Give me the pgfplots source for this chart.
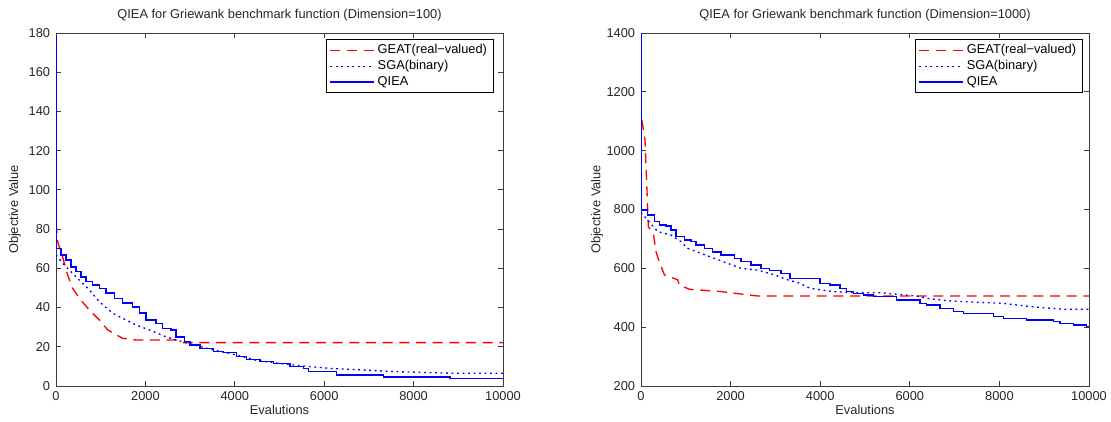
\documentclass[border=0pt]{standalone}
\usepackage{fontspec}
\setmainfont{Liberation Sans}
\usepackage{pgfplots}
\pgfplotsset{compat=1.18}
\definecolor{axgray}{RGB}{60,60,60}
\begin{document}
\begin{tikzpicture}
\useasboundingbox (0,0) rectangle (666.6pt,252.6pt);
\pgfplotsset{
  myaxis/.style={
    scale only axis, height=211.8pt, anchor=south west,
    xmin=0, xmax=10000, xtick={0,2000,...,10000},
    scaled x ticks=false, scaled y ticks=false,
    /pgf/number format/1000 sep={},
    /pgf/number format/assume math mode=true,
    tick align=inside, major tick length=3pt,
    axis line style={axgray, line width=0.6pt},
    every tick/.style={axgray, line width=0.6pt},
    font=\fontsize{7.7}{9}\selectfont,
    tick label style={font=\fontsize{7.7}{9}\selectfont, text=black!85},
    label style={font=\fontsize{7.7}{9}\selectfont, text=black!85},
    every axis title shift=0pt,
    title style={font=\fontsize{7.7}{9}\selectfont, text=black!85, at={(axis description cs:0.5,1.051)}, anchor=center},
    xlabel style={at={(axis description cs:0.5,-0.068)}, anchor=center},
    xlabel={Evalutions}, ylabel={Objective Value},
    legend cell align=left,
    legend style={draw=black, line width=0.5pt, fill=white, font=\fontsize{7.7}{9}\selectfont,
      inner xsep=2pt, inner ysep=1pt, row sep=-1.5pt},
    legend image code/.code={\draw[#1] (0pt,0pt) -- (26pt,0pt);},
    gea/.style={color=red, line width=0.8pt, dash pattern=on 6pt off 4pt},
    sga/.style={color=blue, line width=0.8pt, dash pattern=on 1.1pt off 2.2pt},
    qie/.style={color=blue, line width=0.9pt},
  }
}
\begin{axis}[myaxis, at={(33.6pt,21pt)}, width=268.2pt,
  ymin=0, ymax=180, ytick={0,20,...,180},
  ylabel style={at={(axis description cs:-0.092,0.5)}, anchor=center},
  title={QIEA for Griewank benchmark function (Dimension=100)},
  legend style={at={(0.980,0.983)}, anchor=north east}]
\addplot[gea] coordinates {
(0,83) (37,73.6) (149,65.9) (186,62.6) (261,56.6) (373,49.8) (522,44.7) (746,38.8)
(969,33.7) (1156,28.6) (1491,24.3) (1790,23.5) (2685,23.5) (2800,22.1) (10000,22.1)};
\addlegendentry{GEAT(real−valued)}
\addplot[sga] coordinates {
(0,66.8) (186,61.7) (447,55.7) (746,49) (969,43) (1268,37.1) (1566,33.7) (1790,31.1)
(2088,28.6) (2461,25.1) (2685,23.5) (3000,21.5) (3500,18.5) (4000,16) (4500,13)
(5000,11.5) (5309,10.7) (6130,9) (7622,7.3) (8888,6.5) (10000,6.5)};
\addlegendentry{SGA(binary)}
\addplot[qie, const plot] coordinates {
(0,178) (8,137) (15,70.2) (112,66.8) (224,64.3) (336,60.8) (447,58.3) (559,55.7)
(671,53.2) (820,51.5) (969,49.8) (1119,47.3) (1305,44.7) (1491,42.2) (1715,40.4)
(1864,37.1) (2013,33.7) (2237,32.0) (2386,29.4) (2573,28.6) (2685,25.1) (2871,22.6)
(2998,20.9) (3221,19.2) (3520,17.5) (3743,17.0) (4042,15.0) (4266,13.6) (4564,12.4)
(4862,11.6) (5235,9.9) (5533,9.0) (5645,7.3) (6280,5.6) (7322,4.7) (8814,3.9) (10000,3.9)};
\addlegendentry{QIEA}
\end{axis}
\begin{axis}[myaxis, at={(384.6pt,21pt)}, width=268.8pt,
  ymin=200, ymax=1400, ytick={200,400,...,1400},
  ylabel style={at={(axis description cs:-0.098,0.5)}, anchor=center},
  title={QIEA for Griewank benchmark function (Dimension=1000)},
  legend style={at={(0.987,0.983)}, anchor=north east}]
\addplot[gea] coordinates {
(20,1104) (89,1036) (127,889) (164,741) (275,719) (335,656) (409,623) (521,578)
(818,561) (856,543) (1079,529) (1786,521) (2604,506) (10000,506)};
\addlegendentry{GEAT(real−valued)}
\addplot[sga] coordinates {
(0,790) (149,764) (372,725) (670,713) (893,691) (1042,668) (1339,651) (1637,634)
(1934,617) (2232,600) (2604,594) (2976,578) (3274,561) (3549,549) (3772,532)
(4293,521) (4814,517) (5335,517) (5930,509) (6228,504) (6376,498) (6823,490)
(7567,484) (8088,481) (8683,470) (9427,461) (10000,461)};
\addlegendentry{SGA(binary)}
\addplot[qie, const plot] coordinates {
(0,1400) (8,1060) (15,798) (149,781) (298,759) (409,747) (558,744) (670,730) (781,708)
(967,696) (1116,691) (1228,679) (1414,668) (1600,656) (1786,645) (2083,634) (2232,623)
(2455,611) (2678,600) (2864,592) (3125,583) (3326,566) (3996,549) (4219,543) (4442,532)
(4591,521) (4740,515) (4963,509) (5186,504) (5707,492) (6228,481) (6376,475) (6674,464)
(6972,453) (7195,447) (7865,436) (8088,430) (8609,424) (9204,419) (9353,413) (9650,407)
(9948,402) (10000,402)};
\addlegendentry{QIEA}
\end{axis}
\end{tikzpicture}
\end{document}
